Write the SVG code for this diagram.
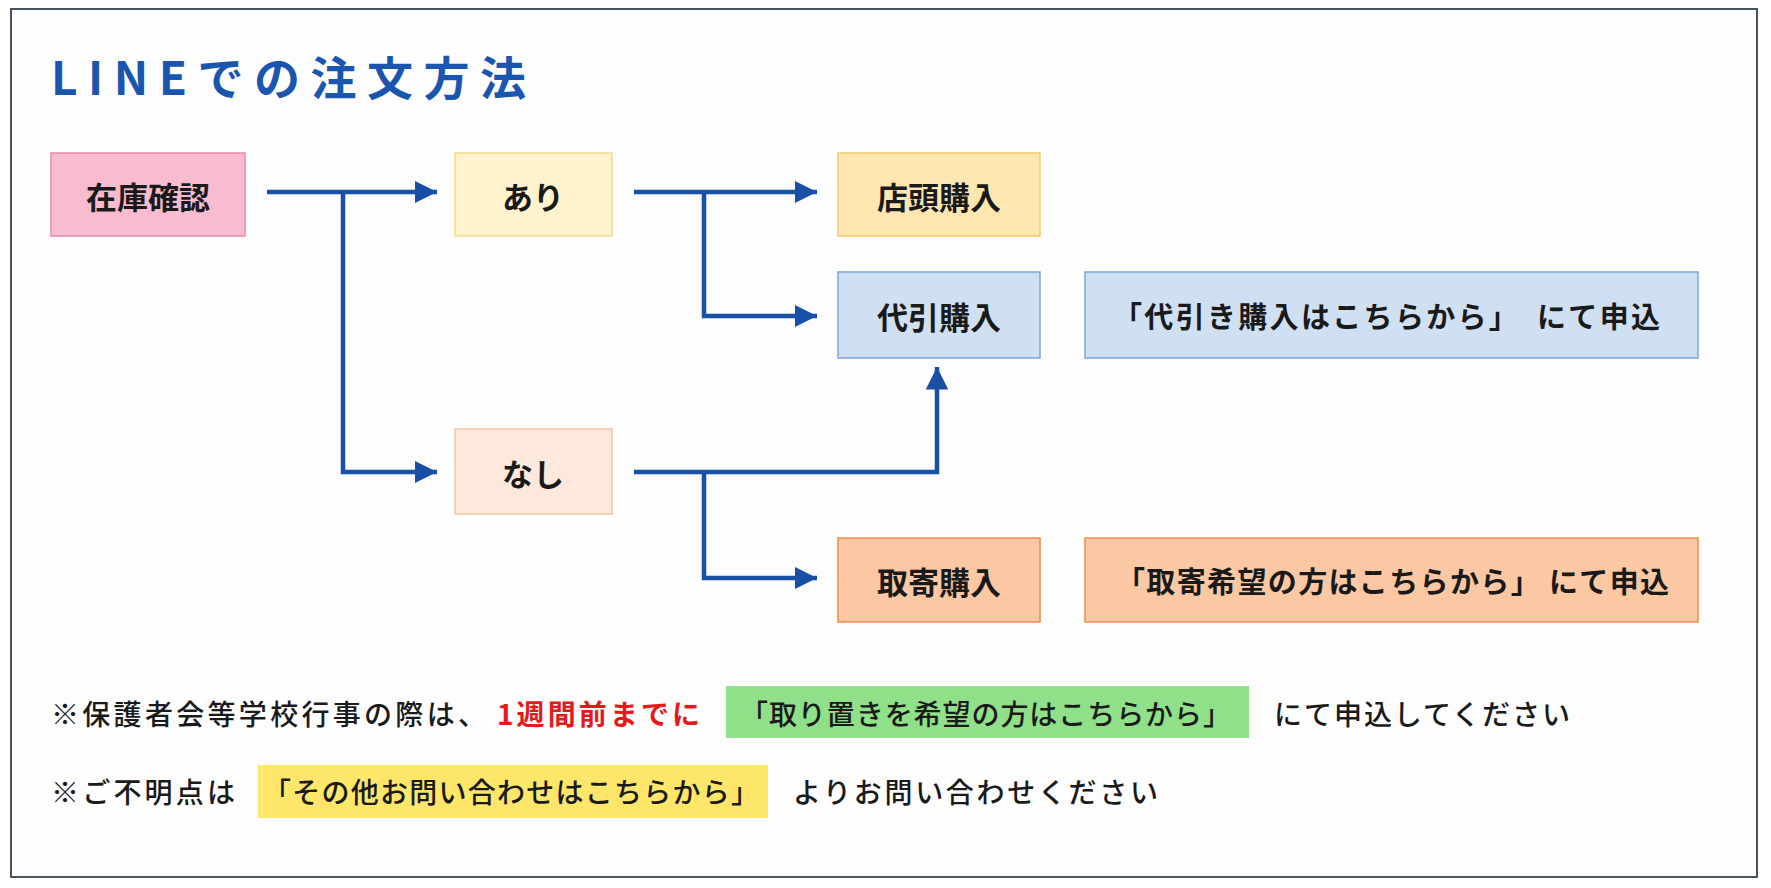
<svg xmlns="http://www.w3.org/2000/svg" width="1771" height="888" viewBox="0 0 1771 888">
<style>
text{font-family:"Noto Sans CJK JP","Noto Sans",sans-serif;font-weight:bold;dominant-baseline:central}
.n{font-size:31px;fill:#1a1a1a;text-anchor:middle}
.i{font-size:29px;fill:#1a1a1a}
.t{font-size:28px;fill:#1a1a1a;font-weight:500}
.c{fill:none;stroke:#1a4fa8;stroke-width:4.5}
</style>
<defs><marker id="a" viewBox="0 0 10 10" refX="10" refY="5" markerWidth="5" markerHeight="5" markerUnits="strokeWidth" orient="auto"><path d="M0,0L10,5L0,10z" fill="#1a4fa8"/></marker></defs>
<rect x="0" y="0" width="1771" height="888" fill="#fff"/>
<rect x="11" y="9" width="1746" height="868" fill="#fdfdfd" stroke="#4a5560" stroke-width="2"/>
<text x="51" y="75" style="font-size:46px;fill:#1a56b0" textLength="475">LINEでの注文方法</text>
<g id="connectors">
<path class="c" d="M267,192H437" marker-end="url(#a)"/>
<path class="c" d="M343,192V472H437" marker-end="url(#a)"/>
<path class="c" d="M634,192H817" marker-end="url(#a)"/>
<path class="c" d="M704,192V316H817" marker-end="url(#a)"/>
<path class="c" d="M634,472H937V367" marker-end="url(#a)"/>
<path class="c" d="M704,472V578H817" marker-end="url(#a)"/>
</g>
<g id="n1"><rect x="51" y="153" width="194" height="83" fill="#f8bbd0" stroke="#e88aa8" stroke-width="1.5"/><text class="n" x="148" y="195">在庫確認</text></g>
<g id="n2"><rect x="455" y="153" width="157" height="83" fill="#fff3cd" stroke="#f5d98a" stroke-width="1.5"/><text class="n" x="533" y="195">あり</text></g>
<g id="n3"><rect x="455" y="429" width="157" height="85" fill="#fde9dc" stroke="#f6c2a0" stroke-width="1.5"/><text class="n" x="533" y="472">なし</text></g>
<g id="n4"><rect x="838" y="153" width="202" height="83" fill="#fde6b0" stroke="#f5c96a" stroke-width="1.5"/><text class="n" x="939" y="195">店頭購入</text></g>
<g id="n5"><rect x="838" y="272" width="202" height="86" fill="#cfe0f3" stroke="#7ba4dd" stroke-width="1.5"/><text class="n" x="939" y="315">代引購入</text></g>
<g id="n6"><rect x="838" y="538" width="202" height="84" fill="#fcc8a4" stroke="#f08a4b" stroke-width="1.5"/><text class="n" x="939" y="580">取寄購入</text></g>
<g id="n7"><rect x="1085" y="272" width="613" height="86" fill="#cfe0f3" stroke="#7ba4dd" stroke-width="1.5"/><text class="i" x="1113" y="315" textLength="547">「代引き購入はこちらから」　にて申込</text></g>
<g id="n8"><rect x="1085" y="538" width="613" height="84" fill="#fcc8a4" stroke="#f08a4b" stroke-width="1.5"/><text class="i" x="1116" y="580" textLength="553">「取寄希望の方はこちらから」 にて申込</text></g>
<g id="note1">
<text class="t" x="51" y="713" textLength="435">※保護者会等学校行事の際は、</text>
<text class="t" x="497" y="713" textLength="203" style="fill:#e3191c;font-weight:bold">1週間前までに</text>
<rect x="726" y="686" width="523" height="52" fill="#90e08a"/>
<text class="t" x="740" y="713" textLength="491">「取り置きを希望の方はこちらから」</text>
<text class="t" x="1274" y="713" textLength="296">にて申込してください</text>
</g>
<g id="note2">
<text class="t" x="51" y="791" textLength="184">※ご不明点は</text>
<rect x="258" y="765" width="510" height="53" fill="#fde66a"/>
<text class="t" x="263" y="791" textLength="496">「その他お問い合わせはこちらから」</text>
<text class="t" x="793" y="791" textLength="365">よりお問い合わせください</text>
</g>
</svg>
